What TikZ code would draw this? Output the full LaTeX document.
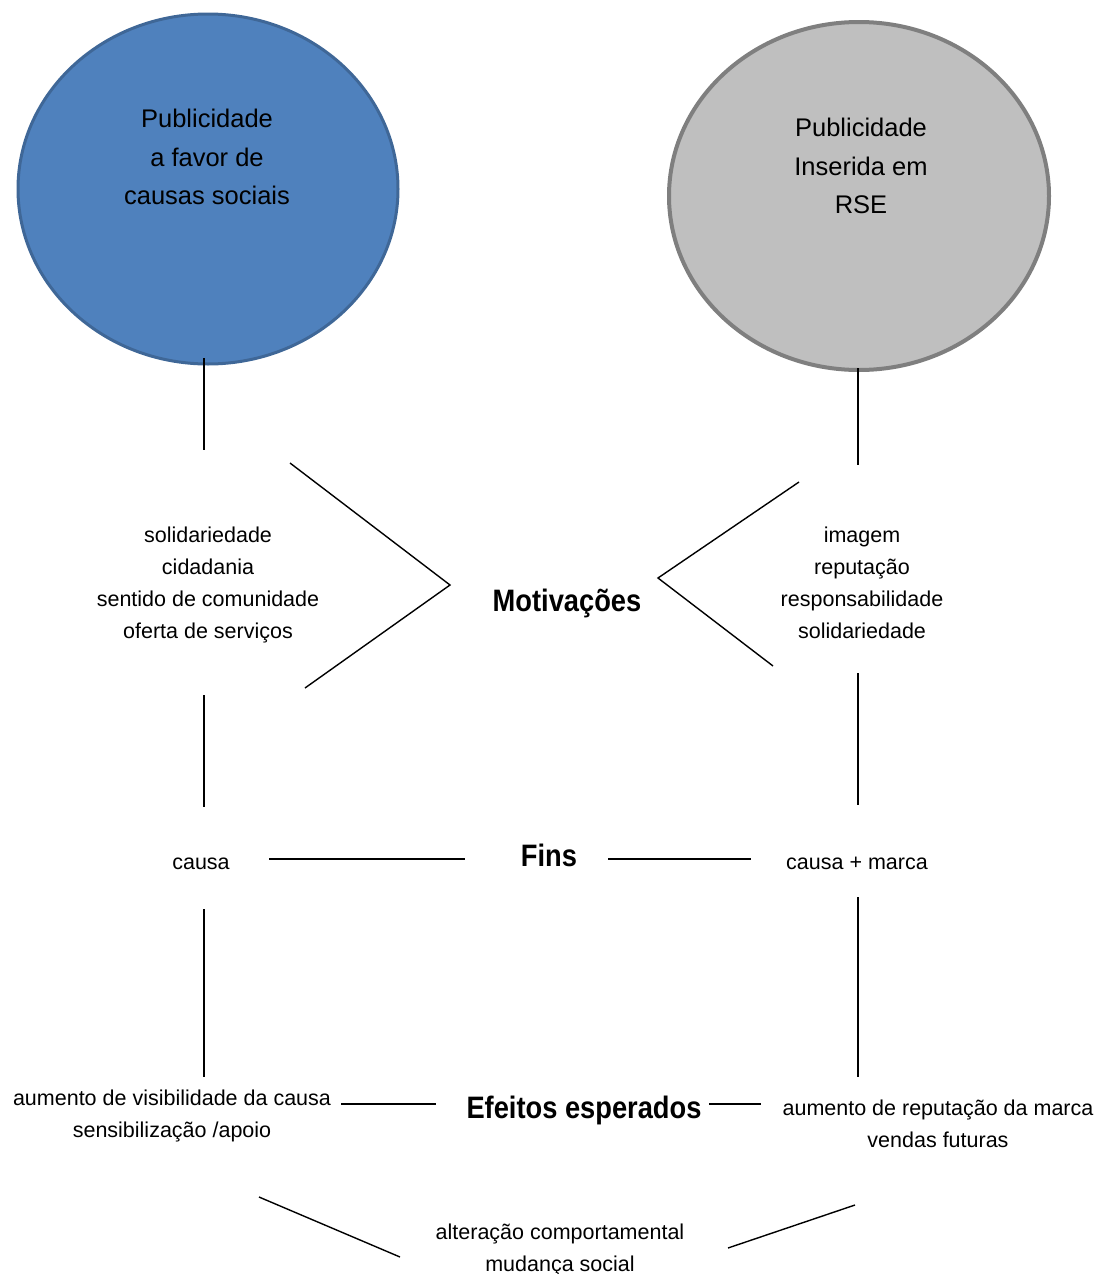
\documentclass[tikz,border=0pt]{standalone}
\usepackage{fontspec}
\setmainfont{Liberation Sans}
\newfontfamily\headfont[FakeStretch=0.88,BoldFeatures={FakeStretch=0.88}]{Liberation Sans}
\usetikzlibrary{shapes.geometric}
\definecolor{blueFill}{HTML}{4F81BD}
\definecolor{blueEdge}{HTML}{3F6797}
\definecolor{grayFill}{HTML}{BFBFBF}
\definecolor{grayEdge}{HTML}{7F7F7F}
\tikzset{
  bigtxt/.style={align=center, font=\fontsize{25.5}{38.5}\selectfont, inner sep=0pt},
  txt/.style={align=center, font=\fontsize{21.5}{32}\selectfont, inner sep=0pt},
  head/.style={align=center, font=\headfont\fontsize{31}{34}\selectfont\bfseries, inner sep=0pt},
  link/.style={line width=1.4pt, black},
}
\begin{document}
\begin{tikzpicture}[x=1pt,y=-1pt]
\useasboundingbox (0,0) rectangle (1100,1274);
% circles
\draw[fill=blueFill, draw=blueEdge, line width=3pt] (208,189) ellipse [x radius=190, y radius=175];
\draw[fill=grayFill, draw=grayEdge, line width=4pt] (859,196) ellipse [x radius=190, y radius=174];
\node[bigtxt] (c1) at (207,157) {Publicidade\\a favor de\\causas sociais};
\node[bigtxt] (c2) at (861,166) {Publicidade\\Inserida em\\RSE};
% texts
\node[txt] (m1) at (208,585) {solidariedade\\cidadania\\sentido de comunidade\\oferta de serviços};
\node[txt] (m2) at (862,583) {imagem\\reputação\\responsabilidade\\solidariedade};
\node[head] (mot) at (567,603) {Motivações};
\node[txt] (f1) at (201,864) {causa};
\node[head] (fins) at (549,855) {Fins};
\node[txt] (f2) at (857,863) {causa + marca};
\node[txt] (e1) at (172,1116) {aumento de visibilidade da causa\\sensibilização /apoio};
\node[head] (ef) at (584,1110) {Efeitos esperados};
\node[txt] (e2) at (938,1124) {aumento de reputação da marca\\vendas futuras};
\node[txt] (alt) at (560,1250) {alteração comportamental\\mudança social};
% coordinates
\coordinate (a1) at (204,358); \coordinate (a2) at (204,450);
\coordinate (b1) at (858,368); \coordinate (b2) at (858,465);
\coordinate (l1) at (290,463); \coordinate (l2) at (450,585); \coordinate (l3) at (305,688);
\coordinate (r1) at (799,482); \coordinate (r2) at (658,578); \coordinate (r3) at (773,666);
\coordinate (a3) at (204,695); \coordinate (a4) at (204,807);
\coordinate (b3) at (858,673); \coordinate (b4) at (858,805);
\coordinate (h1) at (269,859); \coordinate (h2) at (465,859);
\coordinate (h3) at (608,859); \coordinate (h4) at (751,859);
\coordinate (a5) at (204,909); \coordinate (a6) at (204,1077);
\coordinate (b5) at (858,897); \coordinate (b6) at (858,1077);
\coordinate (k1) at (341,1104); \coordinate (k2) at (436,1104);
\coordinate (k3) at (709,1104); \coordinate (k4) at (761,1104);
\coordinate (d1) at (259,1197); \coordinate (d2) at (400,1257);
\coordinate (d3) at (728,1248); \coordinate (d4) at (855,1205);
% connectors
\draw[link] (a1) -- (a2);
\draw[link] (b1) -- (b2);
\draw[link] (l1) -- (l2) -- (l3);
\draw[link] (r1) -- (r2) -- (r3);
\draw[link] (a3) -- (a4);
\draw[link] (b3) -- (b4);
\draw[link] (h1) -- (h2);
\draw[link] (h3) -- (h4);
\draw[link] (a5) -- (a6);
\draw[link] (b5) -- (b6);
\draw[link] (k1) -- (k2);
\draw[link] (k3) -- (k4);
\draw[link] (d1) -- (d2);
\draw[link] (d3) -- (d4);
\end{tikzpicture}
\end{document}
